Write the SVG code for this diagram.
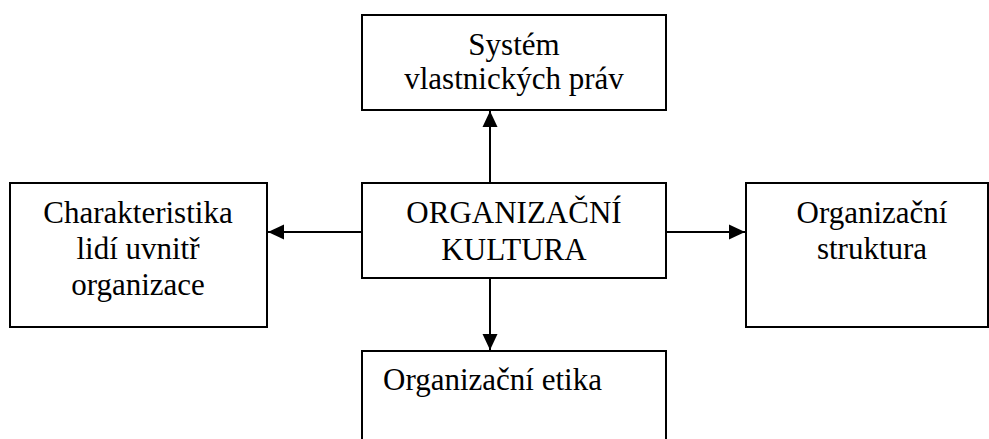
<svg xmlns="http://www.w3.org/2000/svg" width="989" height="439" viewBox="0 0 989 439">
<defs>
<marker id="ah" markerUnits="userSpaceOnUse" markerWidth="16" markerHeight="16" refX="16" refY="8" orient="auto">
<path d="M0,0.5 L16,8 L0,15.5 Z" fill="#000"/>
</marker>
</defs>
<rect width="989" height="439" fill="#fff"/>
<g id="top">
<rect x="362" y="15" width="304" height="95" fill="#fff" stroke="#000" stroke-width="2"/>
<text x="514" y="55" font-family="Liberation Serif" font-size="31" text-anchor="middle" style="font-family:'Liberation Serif';font-size:31px">Systém</text>
<text x="514" y="89" font-family="Liberation Serif" font-size="31" text-anchor="middle" style="font-family:'Liberation Serif';font-size:31px">vlastnických práv</text>
</g>
<g id="center">
<rect x="362" y="183" width="304" height="95" fill="#fff" stroke="#000" stroke-width="2"/>
<text x="514" y="223" font-family="Liberation Serif" font-size="31" text-anchor="middle" style="font-family:'Liberation Serif';font-size:31px">ORGANIZAČNÍ</text>
<text x="514" y="260" font-family="Liberation Serif" font-size="31" text-anchor="middle" style="font-family:'Liberation Serif';font-size:31px">KULTURA</text>
</g>
<g id="left">
<rect x="10" y="183" width="257" height="144" fill="#fff" stroke="#000" stroke-width="2"/>
<text x="138" y="223" font-family="Liberation Serif" font-size="31" text-anchor="middle" style="font-family:'Liberation Serif';font-size:31px">Charakteristika</text>
<text x="138" y="259" font-family="Liberation Serif" font-size="31" text-anchor="middle" style="font-family:'Liberation Serif';font-size:31px">lidí uvnitř</text>
<text x="138" y="295" font-family="Liberation Serif" font-size="31" text-anchor="middle" style="font-family:'Liberation Serif';font-size:31px">organizace</text>
</g>
<g id="right">
<rect x="746" y="183" width="242" height="144" fill="#fff" stroke="#000" stroke-width="2"/>
<text x="872" y="223" font-family="Liberation Serif" font-size="31" text-anchor="middle" style="font-family:'Liberation Serif';font-size:31px">Organizační</text>
<text x="872" y="259" font-family="Liberation Serif" font-size="31" text-anchor="middle" style="font-family:'Liberation Serif';font-size:31px">struktura</text>
</g>
<g id="bottom">
<rect x="362" y="351" width="304" height="110" fill="#fff" stroke="#000" stroke-width="2"/>
<text x="383" y="390" font-family="Liberation Serif" font-size="31" style="font-family:'Liberation Serif';font-size:31px">Organizační etika</text>
</g>
<g id="connectors" stroke="#000" stroke-width="2" fill="none">
<line x1="490" y1="183" x2="490" y2="111" marker-end="url(#ah)"/>
<line x1="362" y1="232" x2="268" y2="232" marker-end="url(#ah)"/>
<line x1="666" y1="232" x2="745" y2="232" marker-end="url(#ah)"/>
<line x1="490" y1="278" x2="490" y2="350" marker-end="url(#ah)"/>
</g>
</svg>
